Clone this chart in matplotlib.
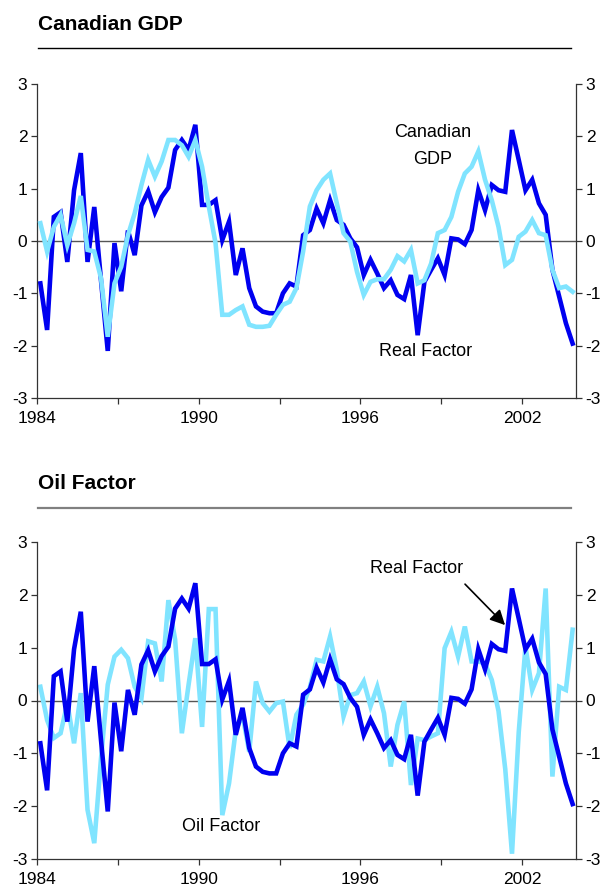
import numpy as np
import matplotlib
matplotlib.use("Agg")
import matplotlib.pyplot as plt
from matplotlib.lines import Line2D

plt.rcParams['font.family'] = ['Liberation Sans', 'DejaVu Sans']

# Quarterly data 1984Q1 .. 2003Q4 (plotted at quarter centres)
quarters = 1984.125 + 0.25 * np.arange(80)

real_factor = [
    -0.81, -1.70, 0.46, 0.55, -0.40, 0.97, 1.68, -0.40, 0.65, -0.75,
    -2.10, -0.04, -0.96, 0.20, -0.27, 0.68, 0.95, 0.55, 0.84, 1.02,
    1.74, 1.93, 1.74, 2.22, 0.69, 0.69, 0.78, 0.02, 0.37, -0.65,
    -0.14, -0.90, -1.25, -1.35, -1.38, -1.38, -1.00, -0.81, -0.87, 0.11,
    0.21, 0.62, 0.34, 0.78, 0.40, 0.31, 0.05, -0.12, -0.65, -0.36,
    -0.62, -0.90, -0.75, -1.03, -1.11, -0.65, -1.80, -0.78, -0.55, -0.33,
    -0.65, 0.05, 0.03, -0.06, 0.21, 0.97, 0.59, 1.07, 0.97, 0.94,
    2.12, 1.55, 0.97, 1.17, 0.72, 0.50, -0.55, -1.06, -1.57, -1.96]

canadian_gdp = [
    0.34, -0.20, 0.27, 0.50, -0.08, 0.34, 0.86, -0.17, -0.20, -0.71,
    -1.83, -0.81, -0.49, 0.11, 0.53, 1.07, 1.55, 1.23, 1.52, 1.93,
    1.93, 1.83, 1.61, 1.93, 1.42, 0.66, -0.04, -1.41, -1.41, -1.32,
    -1.25, -1.60, -1.64, -1.64, -1.62, -1.41, -1.22, -1.16, -0.90, -0.20,
    0.66, 0.97, 1.17, 1.29, 0.72, 0.15, -0.01, -0.59, -1.03, -0.78,
    -0.73, -0.73, -0.55, -0.29, -0.39, -0.17, -0.81, -0.75, -0.43, 0.15,
    0.21, 0.46, 0.94, 1.29, 1.42, 1.71, 1.17, 0.78, 0.27, -0.46,
    -0.36, 0.08, 0.18, 0.40, 0.15, 0.11, -0.55, -0.90, -0.87, -0.97]

oil_factor = [
    0.26, -0.37, -0.71, -0.62, -0.05, -0.81, 0.14, -2.07, -2.70, -1.10,
    0.30, 0.83, 0.96, 0.80, 0.26, 0.04, 1.12, 1.08, 0.36, 1.90,
    1.15, -0.62, 0.30, 1.18, -0.50, 1.73, 1.73, -2.17, -1.57, -0.56,
    -0.27, -0.97, 0.36, -0.05, -0.21, -0.05, -0.02, -0.90, -0.27, -0.08,
    0.25, 0.77, 0.74, 1.21, 0.58, -0.30, 0.10, 0.14, 0.36, -0.11,
    0.26, -0.24, -1.25, -0.46, -0.02, -1.60, -0.72, -0.75, -0.68, -0.62,
    0.99, 1.30, 0.83, 1.40, 0.74, 0.74, 0.70, 0.39, -0.20, -1.30,
    -2.90, -0.60, 1.02, 0.20, 0.52, 2.12, -1.44, 0.26, 0.20, 1.34]

year_ticks = [1984, 1987, 1990, 1993, 1996, 1999, 2002]
year_labels = ['1984', '', '1990', '', '1996', '', '2002']
y_ticks = [-3, -2, -1, 0, 1, 2, 3]

DARK = '#0000F0'
LIGHT = '#80E4FF'
W, H = 613, 894

fig = plt.figure(figsize=(W / 100, H / 100), dpi=100)


def px(x0, y0, x1, y1):
    return [x0 / W, 1 - y1 / H, (x1 - x0) / W, (y1 - y0) / H]


def style(ax):
    ax.set_xlim(1984, 2004)
    ax.set_ylim(-3, 3)
    ax.set_xticks(year_ticks)
    ax.set_xticklabels(year_labels)
    ax.set_yticks(y_ticks)
    ax.set_yticklabels([str(v) for v in y_ticks])
    ax.tick_params(axis='both', direction='out', length=4.5, width=0.9,
                   color='#333333', labelsize=12.5, pad=2.5)
    ax.tick_params(axis='y', right=True, labelright=True)
    ax.tick_params(axis='x', pad=5)
    ax.spines['top'].set_visible(False)
    for s in ('left', 'right', 'bottom'):
        ax.spines[s].set_color('#333333')
        ax.spines[s].set_linewidth(0.9)
    ax.axhline(0, color='#555555', lw=1.0, zorder=1)


ax1 = fig.add_axes(px(37, 84, 576, 398))
style(ax1)
ax1.plot(quarters, real_factor, color=DARK, lw=3.3, zorder=2,
         solid_joinstyle='miter')
ax1.plot(quarters, canadian_gdp, color=LIGHT, lw=3.3, zorder=3,
         solid_joinstyle='miter')
ax1.text(1998.69, 2.08, 'Canadian', ha='center', va='center', fontsize=13)
ax1.text(1998.69, 1.55, 'GDP', ha='center', va='center', fontsize=13)
ax1.text(1998.43, -2.12, 'Real Factor', ha='center', va='center', fontsize=13)

ax2 = fig.add_axes(px(37, 542, 576, 859))
style(ax2)
ax2.plot(quarters, oil_factor, color=LIGHT, lw=3.3, zorder=2,
         solid_joinstyle='miter')
ax2.plot(quarters, real_factor, color=DARK, lw=3.3, zorder=3,
         solid_joinstyle='miter')
ax2.text(1998.1, 2.49, 'Real Factor', ha='center', va='center', fontsize=13)
ax2.annotate('', xy=(2001.44, 1.39), xytext=(1999.81, 2.24),
             arrowprops=dict(arrowstyle='-|>,head_length=0.9,head_width=0.45',
                             color='black', lw=1.2))
ax2.text(1990.83, -2.39, 'Oil Factor', ha='center', va='center', fontsize=13)

# Panel titles with rules
fig.text(38 / W, 1 - 24 / H, 'Canadian GDP', fontsize=15, fontweight='bold',
         ha='left', va='center')
fig.add_artist(Line2D([38 / W, 571 / W], [1 - 47.5 / H, 1 - 47.5 / H],
                      color='black', lw=1.0))
fig.text(38 / W, 1 - 484 / H, 'Oil Factor', fontsize=15, fontweight='bold',
         ha='left', va='center')
fig.add_artist(Line2D([38 / W, 571 / W], [1 - 507.5 / H, 1 - 507.5 / H],
                      color='#808080', lw=1.6))

fig.savefig('out.png', dpi=100)
